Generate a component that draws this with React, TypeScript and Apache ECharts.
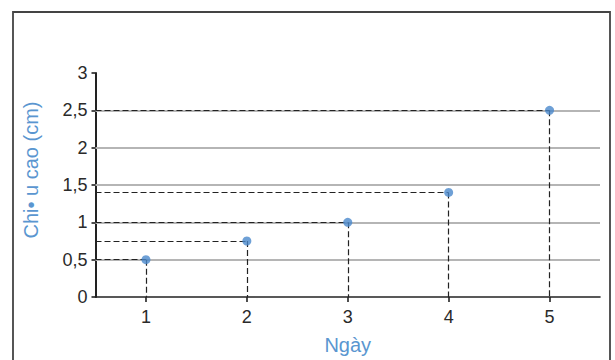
import React, { useEffect, useRef } from "react";
import * as echarts from "echarts";

const days = [1, 2, 3, 4, 5];
const heights = [0.5, 0.75, 1, 1.4, 2.5];
const gridValues = [0.5, 1, 1.5, 2, 2.5];
const X_MIN = 0.5;
const X_MAX = 5.5;
const Y_MIN = 0;
const Y_MAX = 3;
const Y_STEP = 0.5;
const xName = "Ngày";
const yName = "Chi• u cao (cm)";

export default function App() {
  const ref = useRef<HTMLDivElement>(null);
  useEffect(() => {
    document.body.style.margin = "0";
    const chart = echarts.init(ref.current!, undefined, { renderer: "svg" });
    const dashStyle = { color: "#222", width: 1.2, type: [6, 3] as any };
    const gridStyle = { color: "#b5b5b5", width: 1.8, type: "solid" as const };
    const markData: any[] = [];
    gridValues.forEach((v) => {
      markData.push({ yAxis: v, lineStyle: gridStyle });
    });
    days.forEach((d, i) => {
      const h = heights[i];
      markData.push([
        { coord: [X_MIN, h], lineStyle: dashStyle },
        { coord: [d, h] },
      ]);
      markData.push([
        { coord: [d, h], lineStyle: dashStyle },
        { coord: [d, Y_MIN] },
      ]);
    });
    chart.setOption({
      animation: false,
      backgroundColor: "#fff",
      textStyle: { fontFamily: "Liberation Sans, Arial, sans-serif" },
      grid: { left: 95.5, right: 15, top: 73, bottom: 57 },
      graphic: [
        {
          type: "rect",
          shape: { x: 13, y: 12, width: 597, height: 380 },
          style: { fill: "none", stroke: "#444", lineWidth: 1.8 },
          z: 0,
        },
      ],
      xAxis: {
        type: "value",
        min: X_MIN,
        max: X_MAX,
        name: xName,
        nameLocation: "middle",
        nameGap: 38,
        nameTextStyle: { color: "#5a96d0", fontSize: 20 },
        axisLine: { show: true, lineStyle: { color: "#222", width: 1.6 } },
        axisTick: { show: true, length: 5, lineStyle: { color: "#222", width: 1.6 }, customValues: days },
        axisLabel: { color: "#2a2a2a", fontSize: 18, margin: 11, customValues: days },
        splitLine: { show: false },
      },
      yAxis: {
        type: "value",
        min: Y_MIN,
        max: Y_MAX,
        interval: Y_STEP,
        name: yName,
        nameLocation: "middle",
        nameGap: 55,
        nameTextStyle: { color: "#5a96d0", fontSize: 20, padding: [0, 0, 0, 30] },
        axisLine: { show: true, lineStyle: { color: "#222", width: 2 } },
        axisTick: { show: true, length: 4, lineStyle: { color: "#222", width: 1.6 } },
        axisLabel: {
          color: "#2a2a2a",
          fontSize: 18,
          margin: 8,
          formatter: (v: number) => String(v).replace(".", ","),
        },
        splitLine: { show: false },
      },
      series: [
        {
          type: "scatter",
          data: days.map((d, i) => [d, heights[i]]),
          symbol: "circle",
          symbolSize: 9,
          itemStyle: { color: "#4a88cc" },
          z: 5,
          markLine: {
            silent: true,
            symbol: "none",
            label: { show: false },
            z: 1,
            data: markData,
          },
        },
      ],
    });
    return () => chart.dispose();
  }, []);
  return <div ref={ref} style={{ width: 615, height: 360 }} />;
}
